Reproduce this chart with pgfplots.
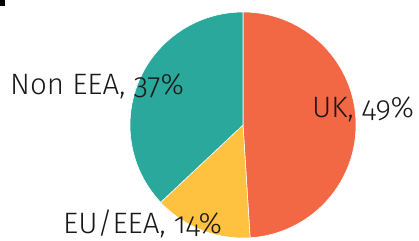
\documentclass[border=0pt]{standalone}
\usepackage{pgfplots}
\usepackage{pgfplotstable}
\pgfplotsset{compat=1.18}
\usepackage{fontspec}
\setmainfont{Fira Sans Light}[Numbers=OldStyle]
\definecolor{ukc}{HTML}{F26744}
\definecolor{euc}{HTML}{FEC240}
\definecolor{nonc}{HTML}{2BA89C}
\pgfplotstableread{
label value color
UK 49 ukc
EU/EEA 14 euc
NonEEA 37 nonc
}\piedata
\begin{document}
\begin{tikzpicture}
\path[use as bounding box] (0,0) rectangle (419bp,241bp);
\fill[black] (0,235bp) rectangle (5bp,241bp);
\begin{axis}[hide axis, x=113bp, y=113bp, xmin=-1, xmax=1, ymin=-1, ymax=1,
  anchor=origin, at={(243bp,116bp)}, clip=false]
\pgfplotstablegetrowsof{\piedata}
\pgfmathtruncatemacro\nrows{\pgfplotsretval-1}
\def\curang{90}
\pgfplotsforeachungrouped \i in {0,...,\nrows}{%
  \pgfplotstablegetelem{\i}{value}\of\piedata \let\val\pgfplotsretval
  \pgfplotstablegetelem{\i}{color}\of\piedata \let\col\pgfplotsretval
  \pgfmathsetmacro\endang{\curang-3.6*\val}%
  \edef\temp{\noexpand\fill[\col, draw=white, line width=0.6bp] (axis cs:0,0) -- (axis cs:{cos(\curang)},{sin(\curang)}) arc[start angle=\curang, end angle=\endang, radius=113bp] -- cycle;}%
  \temp
  \global\let\curang\endang
}
\end{axis}
\begin{scope}[every node/.style={inner sep=0pt, anchor=base west, font=\fontsize{29.5bp}{31bp}\selectfont, text=black!90}]
\node at (10bp,146bp) {Non EEA, 37\%};
\node at (312bp,123bp) {UK, 49\%};
\node at (63bp,8bp) {EU/EEA, 14\%};
\end{scope}
\end{tikzpicture}
\end{document}
